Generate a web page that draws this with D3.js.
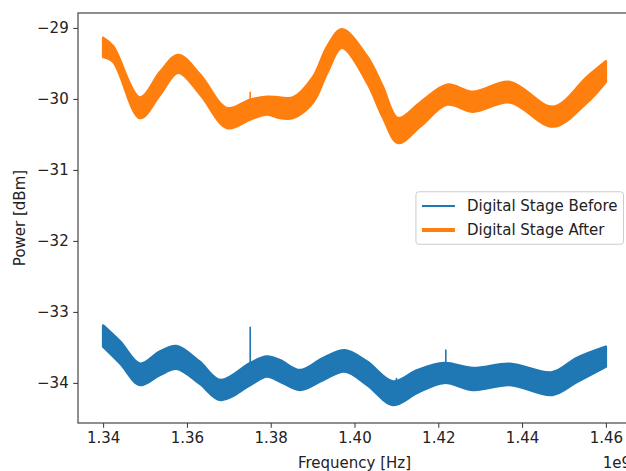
<!DOCTYPE html>
<meta charset="utf-8">
<style>
	body { margin: 0; background: #fff; font-family: "DejaVu Sans", sans-serif; }
	.axis path, .axis line { stroke: #333; }
	.axis text { fill: #222; font-family: "DejaVu Sans", sans-serif; }
</style>
<body>
<svg id="chart" width="626" height="471"></svg>
<script src="https://d3js.org/d3.v7.min.js"></script>
<script>
	// frequencies in GHz (axis shows them x 1e9)
	var freqBefore = [1.3400, 1.3441, 1.3488, 1.3535, 1.3575, 1.3630, 1.3680, 1.3751, 1.3791, 1.3822, 1.3870,
		1.3925, 1.3977, 1.4030, 1.4092, 1.4150, 1.4214, 1.4283, 1.4371, 1.4472, 1.4530, 1.4600];
	var beforeTop = [-33.19, -33.42, -33.73, -33.56, -33.48, -33.70, -33.96, -33.72, -33.63, -33.68, -33.82,
		-33.65, -33.54, -33.70, -33.98, -33.82, -33.72, -33.79, -33.73, -33.85, -33.65, -33.49];
	var beforeBottom = [-33.49, -33.73, -34.03, -33.89, -33.80, -34.01, -34.24, -34.03, -33.91, -33.98, -34.10,
		-33.96, -33.84, -34.03, -34.31, -34.14, -34.00, -34.10, -34.03, -34.17, -33.99, -33.77];

	var freqAfter = [1.3400, 1.3424, 1.3488, 1.3536, 1.3579, 1.3632, 1.3696, 1.3751, 1.3791, 1.3822, 1.3853,
		1.3901, 1.3935, 1.3970, 1.4030, 1.4067, 1.4104, 1.4157, 1.4221, 1.4283, 1.4371, 1.4474, 1.4555, 1.4600];
	var afterTop = [-29.14, -29.26, -29.98, -29.62, -29.38, -29.66, -30.13, -30.01, -29.97, -29.98, -29.98,
		-29.69, -29.26, -29.02, -29.40, -29.82, -30.27, -30.05, -29.80, -29.90, -29.76, -30.11, -29.69, -29.47];
	var afterBottom = [-29.41, -29.48, -30.27, -29.94, -29.63, -29.94, -30.41, -30.29, -30.22, -30.27, -30.27,
		-30.05, -29.63, -29.28, -29.77, -30.25, -30.62, -30.39, -30.08, -30.18, -30.05, -30.39, -30.05, -29.76];

	// narrow spurs sticking out of the bands
	var spurBeforeFreq = [1.3751, 1.4100, 1.4218];
	var spurBeforePeak = [-33.21, -33.93, -33.53];
	var spurBeforeBase = [-33.90, -34.10, -33.85];
	var spurAfterFreq = [1.3751];
	var spurAfterPeak = [-29.90];
	var spurAfterBase = [-30.20];

	var xTicks = [1.34, 1.36, 1.38, 1.40, 1.42, 1.44, 1.46];
	var yTicks = [-34, -33, -32, -31, -30, -29];
	var seriesNames = ["Digital Stage Before", "Digital Stage After"];
	var colors = ["#1f77b4", "#ff7f0e"];

	var svg = d3.select("#chart"),
	margin = {top: 13, left: 78, bottom: 423, right: 631},
	fs = 15;

	var x = d3.scaleLinear().domain([1.334, 1.466]).range([margin.left, margin.right]);
	var y = d3.scaleLinear().domain([-34.565, -28.79]).range([margin.bottom, margin.top]);

	function band(freq, top, bottom) {
		return freq.map(function(f, i) { return {f: f, t: top[i], b: bottom[i]}; });
	}
	var area = d3.area()
	.x(function(d) { return x(d.f); })
	.y0(function(d) { return y(d.b); })
	.y1(function(d) { return y(d.t); })
	.curve(d3.curveCatmullRom.alpha(0.5));

	var plot = svg.append("g");

	[[freqBefore, beforeTop, beforeBottom, spurBeforeFreq, spurBeforePeak, spurBeforeBase],
	 [freqAfter, afterTop, afterBottom, spurAfterFreq, spurAfterPeak, spurAfterBase]].forEach(function(s, k) {
		plot.append("path")
		.datum(band(s[0], s[1], s[2]))
		.attr("d", area)
		.attr("fill", colors[k])
		.attr("stroke", colors[k])
		.attr("stroke-width", 2.5)
		.attr("stroke-linejoin", "round");

		plot.selectAll(null)
		.data(s[3].map(function(f, i) { return {f: f, p: s[4][i], b: s[5][i]}; }))
		.enter().append("line")
		.attr("x1", function(d) { return x(d.f); })
		.attr("x2", function(d) { return x(d.f); })
		.attr("y1", function(d) { return y(d.b); })
		.attr("y2", function(d) { return y(d.p); })
		.attr("stroke", colors[k])
		.attr("stroke-width", 1.6);
	});

	// axes
	svg.append("g")
	.attr("class", "axis")
	.attr("transform", "translate(0," + margin.bottom + ")")
	.call(d3.axisBottom(x).tickValues(xTicks).tickFormat(d3.format(".2f")).tickSize(4.8).tickPadding(4.5).tickSizeOuter(0));
	svg.append("g")
	.attr("class", "axis")
	.attr("transform", "translate(" + margin.left + ",0)")
	.call(d3.axisLeft(y).tickValues(yTicks).tickFormat(d3.format("d")).tickSize(4.8).tickPadding(4.5).tickSizeOuter(0));
	svg.selectAll(".axis text").style("font-size", fs + "px");
	svg.selectAll(".axis path.domain").remove();

	// frame
	svg.append("rect")
	.attr("x", margin.left).attr("y", margin.top)
	.attr("width", margin.right - margin.left).attr("height", margin.bottom - margin.top)
	.attr("fill", "none").attr("stroke", "#333").attr("stroke-width", 1.1);

	svg.append("text")
	.attr("x", (margin.left + margin.right) / 2).attr("y", 468)
	.attr("text-anchor", "middle").style("font-size", fs + "px").attr("fill", "#222")
	.text("Frequency [Hz]");
	svg.append("text")
	.attr("x", margin.right).attr("y", 468)
	.attr("text-anchor", "end").style("font-size", fs + "px").attr("fill", "#222")
	.text("1e9");
	svg.append("text")
	.attr("transform", "translate(25," + (margin.top + margin.bottom) / 2 + ") rotate(-90)")
	.attr("text-anchor", "middle").style("font-size", fs + "px").attr("fill", "#222")
	.text("Power [dBm]");

	// legend
	var lg = svg.append("g");
	var box = lg.append("rect")
	.attr("fill", "#fff").attr("fill-opacity", 0.8)
	.attr("stroke", "#ccc").attr("rx", 3);
	var texts = seriesNames.map(function(n, i) {
		return lg.append("text").style("font-size", fs + "px").attr("fill", "#222").text(n);
	});
	var tw = d3.max(texts, function(t) { return t.node().getComputedTextLength(); });
	var pad = 0.4 * fs, handle = 2.2 * fs, gap = 0.8 * fs, rowH = 1.1 * fs, space = 0.5 * fs;
	var bw = pad * 2 + handle + gap + tw, bh = pad * 2 + rowH * 2 + space;
	var bx = margin.right - 0.5 * fs - bw, by = (margin.top + margin.bottom) / 2 - bh / 2;
	box.attr("x", bx).attr("y", by).attr("width", bw).attr("height", bh);
	seriesNames.forEach(function(n, i) {
		var cy = by + pad + rowH / 2 + i * (rowH + space);
		lg.append("line")
		.attr("x1", bx + pad).attr("x2", bx + pad + handle)
		.attr("y1", cy).attr("y2", cy)
		.attr("stroke", colors[i]).attr("stroke-width", i == 0 ? 2 : 4);
		texts[i].attr("x", bx + pad + handle + gap).attr("y", cy + fs * 0.36);
	});
</script>
</body>
